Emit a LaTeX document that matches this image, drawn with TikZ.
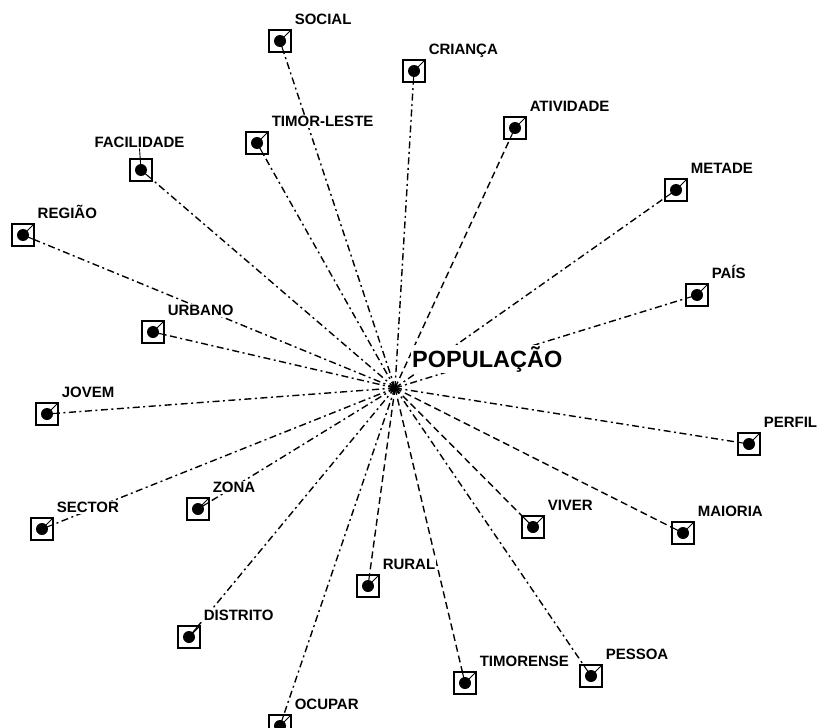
\documentclass[tikz,border=0pt]{standalone}
\usepackage{fontspec}
\setmainfont{Liberation Sans}
\usetikzlibrary{backgrounds}
\begin{document}
\begin{tikzpicture}[x=1pt,y=-1pt,
  lbl/.style={font=\bfseries\fontsize{15}{15}\selectfont, anchor=base west, inner sep=1pt, fill=white},
  biglbl/.style={font=\bfseries\fontsize{23.5}{23.5}\selectfont, anchor=base west, inner sep=1pt, fill=white},
  nodebox/.style={draw, line width=1.1pt, minimum size=22pt, inner sep=0pt},
  leader/.style={line width=0.9pt},
  ddot/.style={line width=1.4pt, dash pattern=on 7pt off 3.5pt on 2pt off 3.5pt},
  dsh/.style={line width=1.4pt, dash pattern=on 7pt off 4pt},
]
\useasboundingbox (0,0) rectangle (820,728);
\coordinate (hub) at (395,388);

\foreach \n/\x/\y in {
  social/280/41, crianca/414/71, atividade/515/128,
  metade/676/190, pais/697/295, timorleste/257/143, facilidade/141/170,
  regiao/23/235, urbano/153/332, jovem/47/414,
  perfil/749/444, sector/42/529, zona/198/509,
  viver/533/527, maioria/683/533, rural/368/586,
  distrito/189/637, timorense/465/683, pessoa/591/676,
  ocupar/280/726}
  \node[nodebox] (\n) at (\x,\y) {};

\begin{scope}[on background layer]
  \foreach \n in {social, crianca, metade, pais, timorleste, facilidade, regiao,
                  urbano, jovem, perfil, sector, zona, distrito, pessoa, ocupar}
    \draw[ddot] (hub) -- (\n);
  \foreach \n in {atividade, viver, maioria, rural, timorense}
    \draw[dsh] (hub) -- (\n);
\end{scope}

\node[biglbl] (pop) at (411,367) {POPULAÇÃO};

\foreach \n/\t in {
  social/SOCIAL, crianca/CRIANÇA, atividade/ATIVIDADE,
  metade/METADE, pais/PAÍS, timorleste/TIMOR-LESTE,
  regiao/REGIÃO, urbano/URBANO, jovem/JOVEM,
  perfil/PERFIL, sector/SECTOR, zona/ZONA,
  viver/VIVER, maioria/MAIORIA, rural/RURAL,
  distrito/DISTRITO, timorense/TIMORENSE, pessoa/PESSOA,
  ocupar/OCUPAR} {
  \draw[leader] (\n.center) -- (\n.north east);
  \node[lbl] (\n L) at ([shift={(2,-5)}]\n.north east) {\t};
}
\node[lbl, anchor=base] (facilidadeL) at (139.5,147) {FACILIDADE};
\draw[leader] (facilidade.center) -- (facilidadeL.south);

\foreach \n in {social, crianca, atividade, metade, pais, timorleste, facilidade,
                regiao, urbano, jovem, perfil, sector, zona, viver, maioria, rural,
                distrito, timorense, pessoa, ocupar} {
  \begin{scope}
    \clip (\n.south west) rectangle (\n.north east);
    \draw[line width=1.1pt] (\n.center) -- (hub);
  \end{scope}
  \fill (\n.center) circle (6pt);
}
\end{tikzpicture}
\end{document}
